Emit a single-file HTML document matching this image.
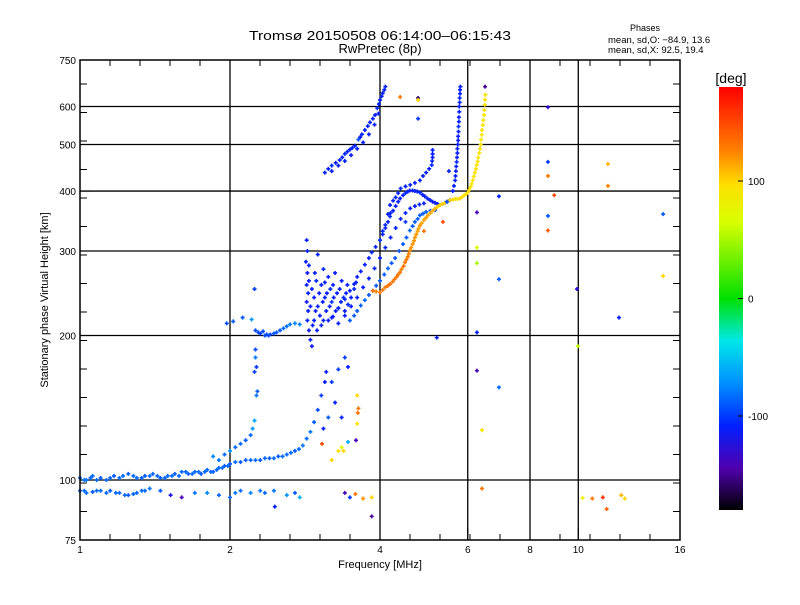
<!DOCTYPE html>
<html><head><meta charset="utf-8"><style>
body{margin:0;background:#fff;}
svg text{font-family:"Liberation Sans",sans-serif;fill:#000;}
</style></head><body>
<svg id="chart" width="800" height="600" xmlns="http://www.w3.org/2000/svg">
<defs><linearGradient id="cmap" x1="0" y1="0" x2="0" y2="1">
<stop offset="0" stop-color="#ff0000"/><stop offset="0.15" stop-color="#ff8000"/><stop offset="0.23" stop-color="#ffdf00"/><stop offset="0.32" stop-color="#d8ff00"/><stop offset="0.5" stop-color="#00e000"/><stop offset="0.6" stop-color="#00e8e8"/><stop offset="0.7" stop-color="#0090ff"/><stop offset="0.8" stop-color="#0020ff"/><stop offset="0.9" stop-color="#5000b0"/><stop offset="1" stop-color="#000000"/>
</linearGradient></defs>
<text x="380" y="40" font-size="13" text-anchor="middle" textLength="262" lengthAdjust="spacingAndGlyphs">Tromsø 20150508 06:14:00–06:15:43</text>
<text x="380" y="53" font-size="13" text-anchor="middle">RwPretec (8p)</text>
<text x="645" y="31" font-size="9" text-anchor="middle">Phases</text>
<text x="608" y="43" font-size="9.5">mean, sd,O: −84.9, 13.6</text>
<text x="608" y="53" font-size="9.5">mean, sd,X:  92.5, 19.4</text>
<g id="grid"></g>
<g id="ticks"></g>
<g id="marks"></g>
<rect x="80" y="60" width="600" height="480" fill="none" stroke="#000" stroke-width="1.5"/>
<text x="380" y="568" font-size="11" text-anchor="middle">Frequency [MHz]</text>
<text transform="translate(48,300) rotate(-90)" font-size="11" text-anchor="middle">Stationary phase Virtual Height [km]</text>
<rect x="719" y="87" width="24" height="423" fill="url(#cmap)"/>
<text x="731" y="83" font-size="14" text-anchor="middle">[deg]</text>
<g id="cbticks"></g>
</svg>
<script>
const xTicks=[1,2,4,6,8,10,16];
const yTicks=[75,100,200,300,400,500,600,750];
const yGrid=[100,200,300,400,500,600];
const xGrid=[2,4,6,8,10];
const cbTicks=[100,0,-100];
// traces: [freq MHz, height km, phase deg]
const eTrace=[[1.0,101,-85],[1.02,100,-80],[1.03,100,-80],[1.05,101,-85],[1.06,102,-85],[1.08,100,-85],[1.1,101,-90],[1.13,100,-85],[1.15,101,-85],[1.17,102,-90],[1.2,101,-85],[1.22,102,-85],[1.25,103,-90],[1.28,102,-85],[1.3,101,-85],[1.33,101,-90],[1.35,102,-90],[1.38,102,-85],[1.4,103,-85],[1.43,102,-85],[1.45,101,-90],[1.48,101,-85],[1.5,102,-85],[1.53,102,-85],[1.55,103,-90],[1.58,102,-85],[1.6,104,-85],[1.63,104,-85],[1.65,103,-90],[1.68,103,-85],[1.7,104,-85],[1.73,104,-85],[1.75,103,-90],[1.78,104,-85],[1.8,105,-85],[1.83,104,-85],[1.85,104,-90],[1.88,105,-85],[1.9,106,-85],[1.93,106,-85],[1.95,107,-90],[1.98,107,-85],[2.0,108,-90],[2.05,109,-85],[2.1,109,-90],[2.15,110,-90],[2.2,110,-85],[2.25,110,-85],[2.3,110,-90],[2.35,111,-85],[2.4,111,-90],[2.45,111,-85],[2.5,112,-90],[2.55,112,-85],[2.6,113,-85],[2.65,114,-85],[2.7,115,-90],[2.75,116,-85],[2.8,118,-80],[2.85,122,-85],[2.9,126,-80],[2.95,132,-90],[3.0,140,-95],[3.05,150,-100],[3.1,160,-110],[3.12,168,-110]];
const eUpper=[[1.85,112,-75],[1.9,110,-80],[1.95,113,-85],[2.0,115,-70],[2.05,117,-85],[2.1,119,-85],[2.15,121,-90],[2.2,124,-85],[2.22,128,-70],[2.24,133,-65],[2.26,150,-80],[2.27,153,-90]];
const eLower=[[1.0,95,-85],[1.02,95,-85],[1.03,94,-85],[1.06,94.5,-90],[1.08,95,-85],[1.1,95,-85],[1.13,94,-85],[1.15,95,-90],[1.18,94,-85],[1.2,94,-85],[1.23,93,-85],[1.25,93,-90],[1.28,93.5,-85],[1.3,94,-85],[1.33,95,-85],[1.35,95,-85],[1.38,96,-80],[1.45,95,-90],[1.52,93,-120],[1.6,92,-140],[1.7,94,-80],[1.8,94,-75],[1.9,93,-85],[2.0,92,-85],[2.05,94,-80],[2.1,95,-85],[2.2,94,-75],[2.3,95,-80],[2.35,94,-85],[2.45,95,-80],[2.6,93,-70],[2.7,94,-90]];
const fLow=[[1.97,212,-95],[2.03,214,-90],[2.12,218,-90],[2.21,216,-70],[2.25,205,-95],[2.28,203,-95],[2.3,202,-100],[2.33,204,-95],[2.35,200,-95],[2.37,201,-95],[2.39,200,-95],[2.41,201,-95],[2.45,202,-90],[2.48,203,-90],[2.52,205,-90],[2.56,207,-85],[2.6,209,-85],[2.64,211,-80],[2.7,212,-75],[2.76,211,-80],[2.25,180,-80],[2.25,187,-95],[2.24,168,-100],[2.26,172,-100],[2.24,250,-100]];
const cusp=[[2.85,316,-110],[2.86,300,-110],[2.84,285,-110],[2.86,270,-115],[2.85,255,-110],[2.87,245,-110],[2.85,235,-115],[2.87,225,-110],[2.86,215,-110],[2.88,205,-115],[2.9,196,-110],[2.92,190,-115],[2.95,240,-110],[2.98,260,-105],[3.0,230,-110],[3.05,255,-110],[3.08,275,-105],[3.1,240,-110],[3.12,225,-110],[3.15,265,-110],[3.18,250,-105],[3.2,235,-100],[3.25,270,-110],[3.28,245,-110],[3.3,228,-110],[3.35,260,-110],[3.38,240,-105],[3.4,225,-110],[3.0,295,-110],[2.95,215,-110],[3.05,210,-110],[2.88,280,-110],[2.88,260,-110],[2.9,230,-110],[2.92,250,-110],[2.93,210,-110],[2.96,270,-110],[2.97,225,-110],[3.02,245,-110],[3.03,220,-110],[3.07,235,-110],[3.1,258,-110],[3.13,245,-110],[3.15,215,-110],[3.17,230,-110],[3.22,255,-110],[3.23,240,-110],[3.26,225,-110],[3.32,250,-110],[3.34,235,-110],[3.42,245,-110],[3.45,232,-105],[3.44,255,-110],[3.5,240,-110],[3.55,250,-105],[3.58,258,-110],[2.99,205,-110],[3.08,215,-110],[3.2,218,-110]];
const traceA=[[3.22,219,-110],[3.3,228,-110],[3.4,238,-105],[3.48,248,-110],[3.55,256,-110],[3.6,265,-110],[3.66,272,-110],[3.73,281,-110],[3.8,290,-110],[3.85,298,-105],[3.92,306,-110],[4.0,316,-110],[4.05,325,-110],[4.1,335,-110],[4.15,345,-110],[4.19,354,-105],[4.25,364,-110],[4.3,372,-110],[4.35,380,-110],[4.39,386,-110],[4.45,392,-110],[4.5,396,-105],[4.55,399,-110],[4.59,401,-110],[4.65,401,-110],[4.7,400,-110],[4.75,399,-110],[4.81,397,-105],[4.87,393,-110],[4.92,390,-110],[4.98,386,-110],[5.04,383,-110],[5.1,380,-110],[5.16,378,-110],[5.22,376,-110],[5.28,374,-110],[5.34,376,-110],[5.4,378,-110],[5.46,380,-110],[5.53,383,-110]];
const traceB=[[3.48,215,-90],[3.55,220,-90],[3.6,225,-90],[3.66,231,-90],[3.73,237,-85],[3.8,243,-90],[3.87,248,-90],[3.93,254,-90],[4.0,260,-90],[4.08,268,-90],[4.15,276,-85],[4.22,283,-90],[4.29,290,-90],[4.37,300,-90],[4.45,310,-90],[4.52,320,-90],[4.59,331,-85],[4.65,338,-90],[4.7,345,-90],[4.76,350,-90],[4.81,356,-90],[4.88,359,-90],[4.95,362,-85],[5.05,364,-90],[5.16,365,-90]];
const traceB2=[[3.3,212,-110],[3.4,220,-110],[3.5,230,-110],[3.6,240,-110],[3.7,252,-110],[3.8,263,-110],[3.9,276,-110],[4.0,290,-110],[4.1,305,-110],[4.2,320,-110],[4.3,335,-110],[4.4,350,-110],[4.5,360,-110],[4.6,368,-110],[4.7,372,-110],[4.8,375,-110],[4.9,377,-110]];
const traceC=[[4.0,316,-100],[4.05,330,-105],[4.1,340,-105],[4.15,358,-110],[4.19,374,-110],[4.25,382,-110],[4.3,388,-110],[4.35,396,-110],[4.4,405,-105],[4.5,409,-110],[4.6,412,-110],[4.7,416,-110],[4.81,421,-110],[4.88,430,-110],[4.95,437,-110],[5.02,445,-110],[5.08,453,-105],[5.09,462,-110],[5.1,470,-110],[5.1,478,-110],[5.1,487,-110]];
const traceD=[[5.66,421,-110],[5.67,430,-110],[5.68,440,-110],[5.69,450,-110],[5.7,460,-105],[5.71,470,-110],[5.72,480,-110],[5.72,490,-110],[5.73,500,-110],[5.74,510,-110],[5.74,520,-110],[5.75,532,-110],[5.75,545,-105],[5.76,558,-110],[5.76,570,-110],[5.77,585,-110],[5.77,600,-110],[5.78,612,-110],[5.78,625,-110],[5.79,638,-110],[5.79,650,-110],[5.8,660,-110],[5.6,400,-110],[5.63,410,-110]];
const traceE=[[3.1,437,-110],[3.15,445,-110],[3.2,452,-105],[3.26,458,-110],[3.32,464,-110],[3.36,470,-110],[3.4,478,-105],[3.44,483,-110],[3.48,488,-110],[3.52,492,-110],[3.56,497,-110],[3.62,512,-90],[3.65,518,-110],[3.68,525,-110],[3.73,536,-110],[3.78,546,-110],[3.82,556,-110],[3.87,566,-110],[3.91,576,-110],[3.95,595,-105],[3.98,607,-110],[4.0,619,-110],[4.03,630,-110],[4.05,640,-110],[4.08,650,-110],[4.1,660,-110],[3.2,440,-110],[3.3,452,-110],[3.4,462,-110],[3.5,475,-110],[3.6,490,-110],[3.7,505,-110],[3.8,525,-110],[3.9,550,-110],[3.97,580,-110]];
const traceX=[[3.87,248,130],[3.93,247,125],[4.0,246,130],[4.05,249,130],[4.1,252,130],[4.15,254,130],[4.19,256,135],[4.24,259,130],[4.28,262,130],[4.32,265,130],[4.35,268,130],[4.39,271,130],[4.42,275,125],[4.46,279,130],[4.49,284,130],[4.52,288,130],[4.55,292,125],[4.57,296,125],[4.59,301,120],[4.62,305,120],[4.65,310,120],[4.68,315,120],[4.7,320,120],[4.73,325,120],[4.76,330,115],[4.78,334,115],[4.81,339,120],[4.85,343,115],[4.9,348,115],[4.95,352,115],[4.99,356,115],[5.05,360,115],[5.1,364,110],[5.15,367,110],[5.2,370,105],[5.24,372,100],[5.28,374,100],[5.34,376,100],[5.4,378,100],[5.46,380,100],[5.53,383,100],[5.6,384,100],[5.66,385,95],[5.72,385,95],[5.79,386,100],[5.85,389,95],[5.9,392,95],[5.95,394,95],[6.0,397,95],[6.04,402,95],[6.08,408,90],[6.11,414,90],[6.14,421,95],[6.17,429,95],[6.2,437,95],[6.23,445,95],[6.25,453,95],[6.28,461,95],[6.3,470,90],[6.33,480,95],[6.35,490,95],[6.37,500,95],[6.38,512,90],[6.4,524,95],[6.41,536,95],[6.43,549,90],[6.45,562,90],[6.47,576,90],[6.48,590,95],[6.49,605,90],[6.5,620,95],[6.51,635,90]];
const scatter=[[8.69,460,-100],[8.69,430,130],[8.95,392,150],[8.69,355,-90],[8.69,331,145],[8.69,598,-130],[11.47,455,110],[11.47,410,125],[14.8,358,-90],[14.8,266,100],[6.93,262,-90],[9.94,250,-130],[12.07,218,-110],[6.26,361,-140],[6.26,305,70],[6.26,283,50],[6.26,203,-110],[6.26,169,-140],[6.93,156,-85],[6.41,127,95],[9.98,190,60],[6.41,96,130],[10.2,91.8,80],[10.67,91.5,130],[11.2,92,160],[11.4,87,140],[12.2,93,110],[12.4,91.5,100],[4.39,628,130],[4.77,625,-160],[4.77,619,100],[4.77,566,-100],[6.93,390,-110],[6.5,660,-150],[3.6,150,100],[3.62,141,130],[3.61,138,135],[3.6,131,95],[3.58,121,-140],[3.3,115,95],[3.35,117,70],[3.38,115,100],[3.2,110,100],[3.06,119,150],[3.45,120,-60],[3.4,94,-140],[3.48,92,-100],[3.57,93.5,130],[3.7,91.5,120],[3.85,92,100],[3.85,84,-150],[2.46,88,-110],[2.76,92,-60],[3.2,160,-100],[3.25,145,-110],[3.3,170,-100],[3.15,135,-90],[3.08,128,-110],[3.35,135,-110],[3.4,180,-100],[3.45,172,-110],[5.2,198,-110],[5.5,440,-110],[5.45,380,-95],[5.35,345,150],[4.9,330,130],[4.2,360,-110],[4.5,345,-100]];
const series=[eTrace,eUpper,eLower,fLow,cusp,traceA,traceB,traceB2,traceC,traceD,traceE,traceX,scatter];

const NS='http://www.w3.org/2000/svg';
function xs(f){return 80+150*Math.log2(f);}
function ys(h){return 540-480*Math.log10(h/75);}
function cbY(p){return 298.5-p*423/360;}
const stops=[[180,[255,0,0]],[126,[255,128,0]],[97,[255,223,0]],[65,[216,255,0]],[0,[0,224,0]],[-36,[0,232,232]],[-72,[0,144,255]],[-108,[0,32,255]],[-144,[80,0,176]],[-180,[0,0,0]]];
function color(p){p=Math.max(-180,Math.min(180,p));for(let i=0;i<stops.length-1;i++){const a=stops[i],b=stops[i+1];if(p<=a[0]&&p>=b[0]){const t=(a[0]-p)/(a[0]-b[0]);const c=a[1].map((v,k)=>Math.round(v+(b[1][k]-v)*t));return 'rgb('+c.join(',')+')';}}return '#000';}
function mk(tag,attrs,parent){const e=document.createElementNS(NS,tag);for(const k in attrs)e.setAttribute(k,attrs[k]);parent.appendChild(e);return e;}
const grid=document.getElementById('grid'),ticks=document.getElementById('ticks'),marks=document.getElementById('marks'),cbt=document.getElementById('cbticks');
xGrid.forEach(f=>{const l=mk('line',{x1:xs(f),x2:xs(f),y1:60,y2:540,stroke:'#000','stroke-width':1.3},grid);

});
yGrid.forEach(h=>{const l=mk('line',{x1:80,x2:680,y1:ys(h),y2:ys(h),stroke:'#000','stroke-width':1.3},grid);

});
for(let x=80;x<=680;x+=30){mk('line',{x1:x,x2:x,y1:540,y2:534,stroke:'#000'},ticks);mk('line',{x1:x,x2:x,y1:60,y2:66,stroke:'#000'},ticks);}
for(let y=540;y>=60;y-=28.5){mk('line',{x1:80,x2:87,y1:y,y2:y,stroke:'#000'},ticks);mk('line',{x1:680,x2:673,y1:y,y2:y,stroke:'#000'},ticks);}
xTicks.forEach(f=>{mk('line',{x1:xs(f),x2:xs(f),y1:540,y2:528,stroke:'#000'},ticks);const t=mk('text',{x:xs(f),y:553,'font-size':10,'text-anchor':'middle'},ticks);t.textContent=f;

});
yTicks.forEach(h=>{mk('line',{x1:80,x2:92,y1:ys(h),y2:ys(h),stroke:'#000'},ticks);const t=mk('text',{x:76,y:ys(h)+4,'font-size':10,'text-anchor':'end'},ticks);t.textContent=h;

});
cbTicks.forEach(p=>{mk('line',{x1:743,x2:738,y1:cbY(p),y2:cbY(p),stroke:'#000'},cbt);const t=mk('text',{x:748,y:cbY(p)+4,'font-size':10},cbt);t.textContent=p;

});
series.forEach(s=>s.forEach(d=>{const x=xs(d[0]),y=ys(d[1]),c=color(d[2]);
const p=mk('path',{d:'M'+(x-2)+' '+y+'h4M'+x+' '+(y-2)+'v4',stroke:c,'stroke-width':1.6,fill:'none'},marks);

}));
</script>
</body></html>
